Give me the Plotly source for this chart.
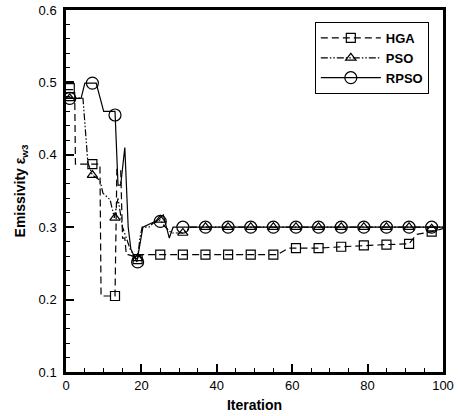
import plotly.graph_objects as go

# ---- data ----
hga_line_x = [0, 1, 2.3, 2.5, 7, 9.0, 9.3, 13, 13.5, 14.5, 15.0, 15.6, 16.0, 16.5, 19, 20, 56, 59, 61, 67, 73, 79, 85, 91, 93, 97, 100]
hga_line_y = [0.49, 0.49, 0.49, 0.387, 0.387, 0.387, 0.205, 0.205, 0.38, 0.38, 0.285, 0.285, 0.262, 0.262, 0.258, 0.262, 0.262, 0.271, 0.271, 0.271, 0.273, 0.275, 0.276, 0.277, 0.29, 0.294, 0.298]

pso_line_x = [0, 3, 4.5, 5.8, 7, 9, 9.8, 11.7, 12.8, 13.8, 15, 17, 18.5, 19, 19.6, 20.2, 22, 23, 25, 26, 28, 31, 33, 100]
pso_line_y = [0.48, 0.478, 0.478, 0.389, 0.372, 0.365, 0.347, 0.338, 0.313, 0.34, 0.3, 0.27, 0.257, 0.257, 0.285, 0.30, 0.30, 0.305, 0.31, 0.302, 0.292, 0.292, 0.30, 0.30]

rpso_line_x = [0, 4, 5, 8, 10, 13, 13.8, 14.5, 15.6, 16.5, 17.2, 18.8, 20.4, 22.3, 24.4, 25.8, 27.4, 28.4, 100]
rpso_line_y = [0.478, 0.478, 0.499, 0.499, 0.46, 0.46, 0.358, 0.358, 0.41, 0.30, 0.27, 0.252, 0.30, 0.305, 0.31, 0.317, 0.285, 0.30, 0.30]

marker_x = [1, 7, 13, 19, 25, 31, 37, 43, 49, 55, 61, 67, 73, 79, 85, 91, 97]
hga_marker_y = [0.492, 0.387, 0.205, 0.256, 0.262, 0.262, 0.262, 0.262, 0.262, 0.262, 0.271, 0.271, 0.273, 0.275, 0.276, 0.277, 0.294]
pso_marker_y = [0.478, 0.372, 0.313, 0.257, 0.31, 0.292, 0.30, 0.30, 0.30, 0.30, 0.30, 0.30, 0.30, 0.30, 0.30, 0.30, 0.298]
rpso_marker_y = [0.478, 0.499, 0.455, 0.252, 0.308, 0.30, 0.30, 0.30, 0.30, 0.30, 0.30, 0.30, 0.30, 0.30, 0.30, 0.30, 0.30]

series_names = ["HGA", "PSO", "RPSO"]
x_ticks = [0, 20, 40, 60, 80, 100]
y_ticks = [0.1, 0.2, 0.3, 0.4, 0.5, 0.6]

FONT = "Liberation Sans, Arial, sans-serif"
styles = {
    "HGA": dict(dash="7px,4px", symbol="square-open", size=9),
    "PSO": dict(dash="7px,2px,1.5px,2px,1.5px,2px", symbol="triangle-up-open", size=9),
    "RPSO": dict(dash="solid", symbol="circle-open", size=12),
}
lines = {"HGA": (hga_line_x, hga_line_y), "PSO": (pso_line_x, pso_line_y), "RPSO": (rpso_line_x, rpso_line_y)}
marks = {"HGA": hga_marker_y, "PSO": pso_marker_y, "RPSO": rpso_marker_y}

fig = go.Figure()
for name in series_names:
    st = styles[name]
    lx, ly = lines[name]
    fig.add_trace(go.Scatter(x=lx, y=ly, mode="lines", showlegend=False,
                             line=dict(color="black", width=1.2, dash=st["dash"])))
    fig.add_trace(go.Scatter(x=marker_x, y=marks[name], mode="markers", showlegend=False,
                             marker=dict(symbol=st["symbol"], size=st["size"], color="black",
                                         line=dict(color="black", width=1.2))))
for name in series_names:
    st = styles[name]
    fig.add_trace(go.Scatter(x=[None], y=[None], mode="lines+markers", name="<b>%s</b>" % name,
                             line=dict(color="black", width=1.2, dash=st["dash"]),
                             marker=dict(symbol=st["symbol"], size=st["size"], color="black",
                                         line=dict(color="black", width=1.2))))

axis_common = dict(showgrid=False, zeroline=False, showline=True, linecolor="black", linewidth=2.5,
                   mirror=True, ticks="inside", ticklen=8, tickwidth=1.5, tickcolor="black",
                   automargin=False, ticklabeloverflow="allow",
                   tickfont=dict(family=FONT, size=13, color="black"))

fig.update_xaxes(range=[0, 100], tickvals=x_ticks,
                 minor=dict(dtick=5, ticks="inside", ticklen=4, tickwidth=1, tickcolor="black"),
                 title=dict(text="<b>Iteration</b>", font=dict(family=FONT, size=14, color="black"), standoff=8),
                 **axis_common)
fig.update_yaxes(range=[0.1, 0.6], tickvals=y_ticks, tickformat=".1f",
                 minor=dict(dtick=0.02, ticks="inside", ticklen=4, tickwidth=1, tickcolor="black"),
                 title=dict(text="<b>Emissivity ε<sub>w3</sub></b>", font=dict(family=FONT, size=14, color="black"), standoff=10),
                 ticklabelstandoff=4,
                 **axis_common)

fig.update_layout(
    width=458, height=416,
    margin=dict(l=66, r=15, t=10, b=44),
    paper_bgcolor="white", plot_bgcolor="white",
    legend=dict(x=0.66, y=0.967, xanchor="left", yanchor="top", bgcolor="white",
                bordercolor="black", borderwidth=1, itemwidth=60,
                font=dict(family=FONT, size=13, color="black"), tracegroupgap=0),
)

# remove the default 8px page margin so the figure fills the window exactly
fig.write_html("out.html", config={"displayModeBar": False},
               post_script="document.body.style.margin='0';document.body.style.overflow='hidden';")
